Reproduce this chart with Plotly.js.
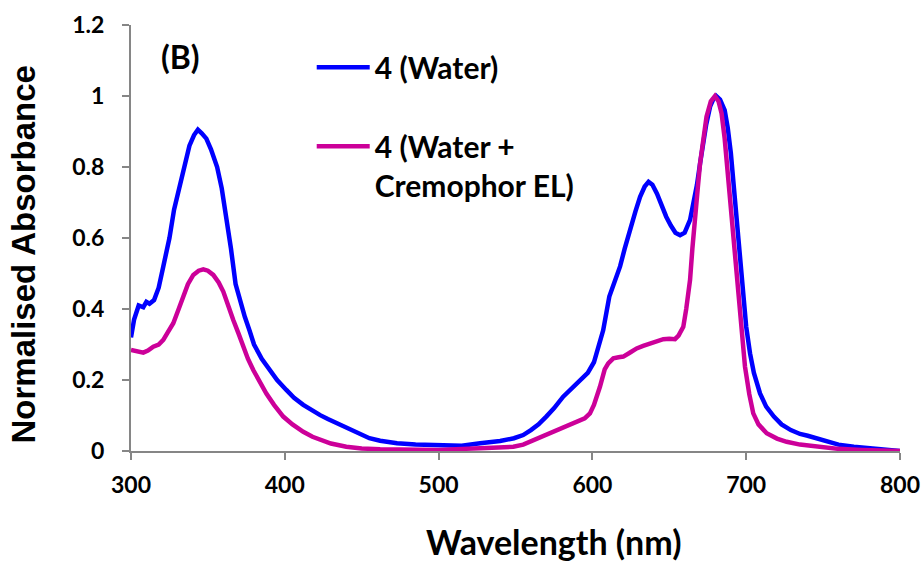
<!DOCTYPE html>
<html>
<head>
<meta charset="utf-8">
<script src="https://cdn.plot.ly/plotly-3.0.1.min.js"></script>
<style>html,body{margin:0;padding:0;background:#fff;}#chart{width:923px;height:563px;}</style>
</head>
<body>
<div id="chart"></div>
<script>
// Blue series: 4 (Water)
const waterWl = [300,302,305,308,310,312,315,318,321,325,328,332,335,338,341,343.5,346,349,352,356,359,362,365,368,371,374,377,380,385,390,395,401,406,412,418,423,428,434,440,445,450,455,462,473,485,500,515,527,540,549,555,560,565,570,575,581,586,592,597,601,604,607,611,615,618,621,624,628,631,634,636.5,639,642,645,648,651,654,657,660,663.5,666,668,670,672,674,676.5,678.5,680.5,683,686,688,690,691.6,694,697,700,702.5,705,709,713,718,723,729,735,740,750,760,770,780,790,800];
const waterAbs = [0.32,0.37,0.41,0.405,0.42,0.415,0.425,0.46,0.52,0.60,0.68,0.755,0.80,0.86,0.89,0.905,0.895,0.88,0.85,0.80,0.74,0.66,0.57,0.47,0.42,0.378,0.34,0.30,0.26,0.228,0.20,0.172,0.15,0.13,0.113,0.101,0.09,0.078,0.064,0.053,0.045,0.036,0.029,0.022,0.018,0.015,0.015,0.022,0.028,0.036,0.045,0.059,0.075,0.097,0.12,0.153,0.175,0.20,0.22,0.25,0.29,0.34,0.435,0.485,0.52,0.57,0.62,0.675,0.716,0.745,0.758,0.75,0.725,0.69,0.66,0.635,0.615,0.608,0.615,0.651,0.70,0.75,0.81,0.87,0.92,0.97,0.99,1.0,0.99,0.96,0.91,0.84,0.763,0.63,0.48,0.35,0.275,0.22,0.162,0.125,0.097,0.075,0.059,0.048,0.043,0.03,0.018,0.012,0.008,0.004,0.0];

// Magenta series: 4 (Water + Cremophor EL)
const cremWl = [300,304,308,311,314.5,318,321,324,327.5,331,334,337,340.5,344,347,350,353.5,357,360,363,366.5,370,373,376,379.5,384,388,393,399,405,412,418,423,430,440,450,462,480,500,527,540,548.6,555,559.4,565,570.2,575,581,586,591.9,595,598.4,601,604.9,608,610.3,613.6,617,620.1,624,628.8,633,637.4,642,646.1,650,653.7,656,659.1,661,663.5,665,666.7,668.5,670,672,674.2,677,679.7,682,684,686,688.4,691,693.8,696.5,699.2,702,704.6,708,713.3,720,726.3,735,750,760,775,800];
const cremAbs = [0.285,0.28,0.277,0.283,0.294,0.30,0.313,0.335,0.36,0.40,0.435,0.47,0.496,0.508,0.512,0.508,0.496,0.475,0.449,0.41,0.369,0.33,0.294,0.26,0.228,0.193,0.162,0.13,0.097,0.075,0.054,0.04,0.031,0.021,0.012,0.007,0.005,0.003,0.003,0.008,0.01,0.012,0.018,0.026,0.035,0.045,0.054,0.064,0.073,0.083,0.092,0.106,0.13,0.181,0.23,0.247,0.261,0.264,0.266,0.276,0.289,0.296,0.303,0.31,0.315,0.316,0.315,0.325,0.35,0.40,0.482,0.57,0.67,0.74,0.81,0.88,0.942,0.985,1.0,0.985,0.951,0.88,0.763,0.62,0.482,0.35,0.238,0.16,0.106,0.075,0.05,0.035,0.026,0.018,0.01,0.006,0.003,0.0];

const seriesNames = ['4 (Water)', '4 (Water +<br>Cremophor EL)'];
const xTitle = 'Wavelength (nm)';
const yTitle = 'Normalised Absorbance';
const panelLabel = '(B)';
const xTicks = [300,400,500,600,700,800];
const yTicks = [0,0.2,0.4,0.6,0.8,1,1.2];
const yTickText = ['0','0.2','0.4','0.6','0.8','1','1.2'];

const FONT = 'Lato, "Open Sans", sans-serif';
const ARIAL = '"Liberation Sans", Arial, sans-serif';
const traces = [
  {x: waterWl, y: waterAbs, name: seriesNames[0], type: 'scatter', mode: 'lines',
   line: {color: '#0000FF', width: 4.5}, legendgroup: 'a'},
  {x: cremWl, y: cremAbs, name: seriesNames[1], type: 'scatter', mode: 'lines',
   line: {color: '#CC0099', width: 4.5}, legendgroup: 'b'}
];
const axisCommon = {
  showgrid: false, zeroline: false, showline: true, linecolor: '#868686', linewidth: 2,
  ticks: 'outside', ticklen: 7, tickwidth: 2, tickcolor: '#868686',
  tickfont: {family: FONT, size: 23, color: '#000', weight: 'bold'}
};
const layout = {
  width: 923, height: 563,
  margin: {l: 131, r: 23, t: 25, b: 112},
  paper_bgcolor: '#fff', plot_bgcolor: '#fff',
  font: {family: FONT, color: '#000'},
  xaxis: Object.assign({}, axisCommon, {
    range: [300, 800], tickvals: xTicks, ticklabelstandoff: 5
  }),
  yaxis: Object.assign({}, axisCommon, {
    range: [0, 1.2], tickvals: yTicks, ticktext: yTickText, ticklabelstandoff: 13
  }),
  showlegend: true,
  legend: {
    x: 0.235, y: 0.962, xanchor: 'left', yanchor: 'top',
    bgcolor: 'rgba(0,0,0,0)', borderwidth: 0,
    font: {family: FONT, size: 30, color: '#000', weight: 'bold'},
    traceorder: 'grouped', tracegroupgap: 37, valign: 'top', itemwidth: 53
  },
  annotations: [
    {text: panelLabel, xref: 'paper', yref: 'paper', x: 0.065, y: 0.925, xanchor: 'center', yanchor: 'middle',
     showarrow: false, font: {family: FONT, size: 32, color: '#000', weight: 'bold'}},
    {text: xTitle, xref: 'paper', yref: 'paper', x: 0.5488, y: -0.2113, xanchor: 'center', yanchor: 'middle',
     showarrow: false, font: {family: FONT, size: 34, color: '#000', weight: 'bold'}},
    {text: yTitle, xref: 'paper', yref: 'paper', x: -0.1398, y: 0.4624, xanchor: 'center', yanchor: 'middle',
     textangle: -90, showarrow: false, font: {family: ARIAL, size: 33, color: '#000', weight: 'bold'}}
  ]
};
Plotly.newPlot('chart', traces, layout, {displayModeBar: false, staticPlot: true});
</script>
</body>
</html>
